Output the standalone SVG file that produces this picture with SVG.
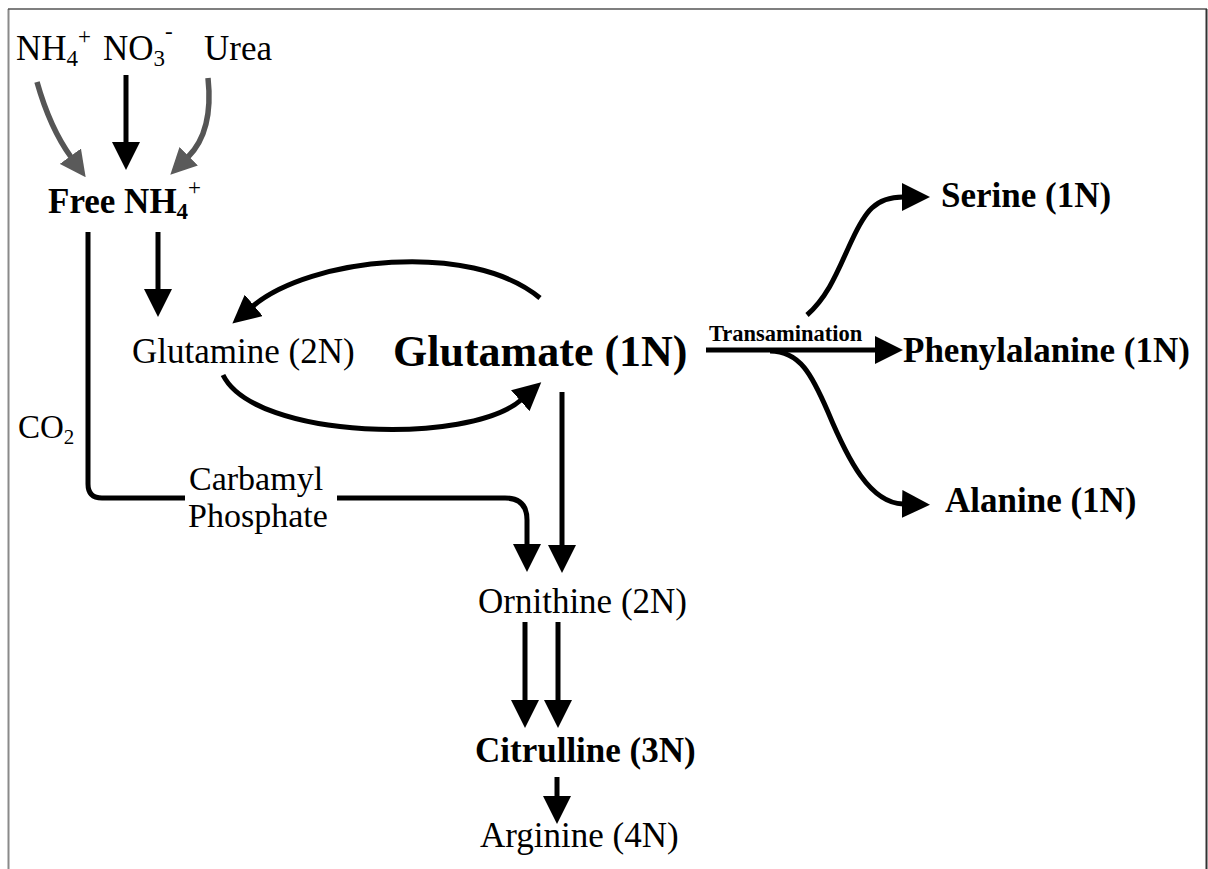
<svg xmlns="http://www.w3.org/2000/svg" width="1208" height="869" viewBox="0 0 1208 869">
<style>
.t{font-family:"Liberation Serif","Times New Roman",serif;font-size:35px;fill:#000}
.b{font-weight:bold}
.sm{font-size:23px}
.ln{fill:none;stroke:#000;stroke-width:5}
.gr{fill:none;stroke:#555;stroke-width:5.5}
</style>
<defs>
<marker id="ah" markerUnits="userSpaceOnUse" viewBox="0 0 28 28" refX="1" refY="14" markerWidth="28" markerHeight="28" orient="auto">
<path d="M0,0 L28,14 L0,28 z" fill="#000"/>
</marker>
<marker id="ahg" markerUnits="userSpaceOnUse" viewBox="0 0 26 26" refX="1" refY="13" markerWidth="26" markerHeight="26" orient="auto">
<path d="M0,0 L26,13 L0,26 z" fill="#5a5a5a"/>
</marker>
</defs>
<rect width="1208" height="869" fill="#fff"/>
<g id="frame">
<line x1="8.5" y1="9" x2="8.5" y2="869" stroke="#8a8a8a" stroke-width="2"/>
<line x1="8" y1="9" x2="1207" y2="9" stroke="#555" stroke-width="1.5"/>
<line x1="1206.5" y1="9" x2="1206.5" y2="869" stroke="#333" stroke-width="2"/>
</g>
<g id="connectors">
<path class="gr" d="M37,82 Q50,128 71,157" marker-end="url(#ahg)"/>
<path class="ln" d="M126,75 V143" marker-end="url(#ah)"/>
<path class="gr" d="M208,78 C212,115 205,140 188,157" marker-end="url(#ahg)"/>
<path class="ln" d="M158,232 V290" marker-end="url(#ah)"/>
<path class="ln" d="M88,232 V484 Q88,498 102,498 H185"/>
<path class="ln" d="M337,498 H505 Q527,498 527,520 V545" marker-end="url(#ah)"/>
<path class="ln" d="M562,392 V546" marker-end="url(#ah)"/>
<path class="ln" d="M540,298 C470,240 310,258 253,306" marker-end="url(#ah)"/>
<path class="ln" d="M223,375 C255,440 470,445 521,400" marker-end="url(#ah)"/>
<path class="ln" d="M706,350 H876" marker-end="url(#ah)"/>
<path class="ln" d="M807,315 C830,295 840,265 852,240 C865,212 875,197 903,197" marker-end="url(#ah)"/>
<path class="ln" d="M770,351 C800,351 812,375 828,412 C848,460 870,503 903,504" marker-end="url(#ah)"/>
<path class="ln" d="M525,622 V701" marker-end="url(#ah)"/>
<path class="ln" d="M558,622 V701" marker-end="url(#ah)"/>
<path class="ln" d="M557,777 V797" marker-end="url(#ah)"/>
</g>
<g id="nh4-source"><text class="t" x="16" y="60">NH<tspan class="sm" y="66">4</tspan><tspan class="sm" y="44">+</tspan></text></g>
<g id="no3-source"><text class="t" x="103" y="60">NO<tspan class="sm" y="66">3</tspan><tspan class="sm" y="39">-</tspan></text></g>
<g id="urea"><text class="t" x="204" y="60">Urea</text></g>
<g id="free-nh4"><text class="t b" x="48" y="213">Free NH<tspan class="sm" y="219">4</tspan><tspan class="sm" style="font-weight:normal" y="195">+</tspan></text></g>
<g id="glutamine"><text class="t" x="132" y="363">Glutamine (2N)</text></g>
<g id="glutamate"><text class="t b" x="393" y="366" style="font-size:44px">Glutamate (1N)</text></g>
<g id="transamination"><text class="t b" x="709" y="341" style="font-size:22.5px">Transamination</text></g>
<g id="serine"><text class="t b" x="941" y="207">Serine (1N)</text></g>
<g id="phenylalanine"><text class="t b" x="903" y="362">Phenylalanine (1N)</text></g>
<g id="alanine"><text class="t b" x="945" y="512">Alanine (1N)</text></g>
<g id="co2"><text class="t" x="18" y="438" style="font-size:33px">CO<tspan class="sm" style="font-size:21px" y="444">2</tspan></text></g>
<g id="carbamyl-phosphate"><text class="t" x="189" y="490" style="font-size:34px">Carbamyl</text><text class="t" x="188" y="527" style="font-size:34px">Phosphate</text></g>
<g id="ornithine"><text class="t" x="478" y="613">Ornithine (2N)</text></g>
<g id="citrulline"><text class="t b" x="475" y="762">Citrulline (3N)</text></g>
<g id="arginine"><text class="t" x="480" y="847">Arginine (4N)</text></g>
</svg>
